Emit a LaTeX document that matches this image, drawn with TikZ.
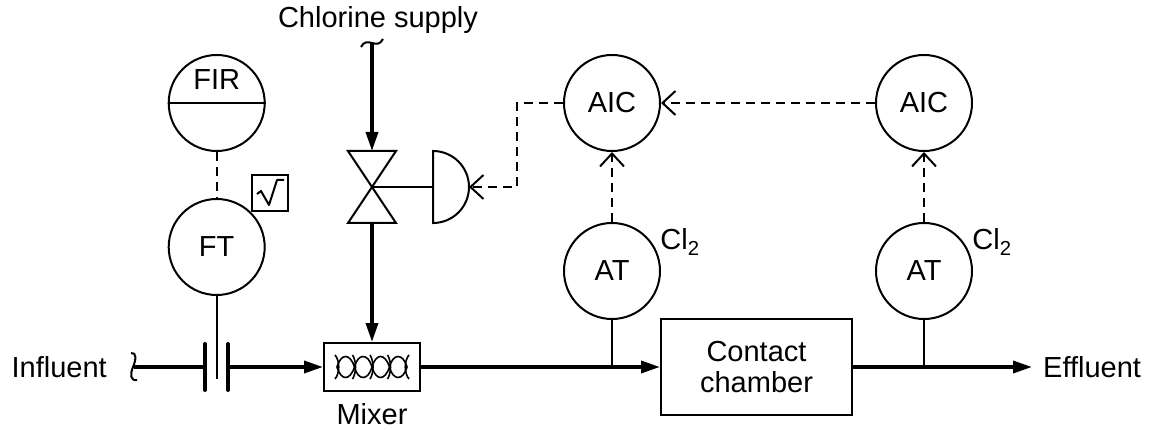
\documentclass[tikz,border=0pt]{standalone}
\usepackage{fontspec}
\setmainfont{Liberation Sans}
\usetikzlibrary{arrows.meta}
\begin{document}
\begin{tikzpicture}[x=1pt,y=-1pt,
  txt/.style={font=\fontsize{29}{31}\selectfont, inner sep=0pt},
  inst/.style={circle, draw, line width=2pt, minimum size=96pt, inner sep=0pt, font=\fontsize{29}{31}\selectfont},
  pipe/.style={line width=3.5pt},
  thinline/.style={line width=2pt},
  sig/.style={line width=2pt, dash pattern=on 9pt off 6pt},
  parr/.style={-{Triangle[length=19pt,width=12pt]}},
  barb/.style={-{Straight Barb[length=13pt,width=24pt,line width=2pt]}}
]
\useasboundingbox (0,0) rectangle (1150,430);

% instruments
\node[inst] (fir) at (216.7,103) {};
\node[txt] (firtxt) at (216.7,80) {FIR};
\draw[thinline] (fir.west) -- (fir.east);
\node[inst] (ft) at (216.7,247) {FT};
\draw[sig] (fir.south) -- (ft.north);
\node[draw, thinline, minimum size=36pt, inner sep=0pt] (sqrt) at (270,193) {};
\draw[thinline, line join=round, shift={(sqrt.center)}] (-13,1) -- (-9,-2) -- (-1,12) -- (7,-13) -- (14,-13);

% orifice plates
\coordinate (pl1) at (205,367);
\coordinate (pl2) at (228,367);
\draw[line width=4pt, line cap=round] (205,344) -- (205,390);
\draw[line width=4pt, line cap=round] (228,344) -- (228,390);
\draw[thinline] (ft.south) -- (216.7,379);

% influent
\node[txt, anchor=east] (inf) at (107,367.5) {Influent};
\coordinate (inbrk) at (134,367);
\draw[thinline] (131,353) .. controls (137,352) and (136,360) .. (133,367) .. controls (130,374) and (130,381) .. (137,380);
\draw[pipe] (inbrk) -- (pl1);

% mixer
\node[draw, thinline, minimum width=96pt, minimum height=48pt, inner sep=0pt] (mixer) at (372,367) {};
\node[txt, anchor=base] (mixtxt) at (372,424) {Mixer};
\draw[line width=1.6pt] (337,367)
  .. controls (341,353) and (350,353) .. (354.5,367)
  .. controls (358,353) and (368,353) .. (372,367)
  .. controls (376,353) and (385,353) .. (389.5,367)
  .. controls (393,353) and (403,353) .. (407,367);
\draw[line width=1.6pt] (337,367)
  .. controls (341,381) and (350,381) .. (354.5,367)
  .. controls (358,381) and (368,381) .. (372,367)
  .. controls (376,381) and (385,381) .. (389.5,367)
  .. controls (393,381) and (403,381) .. (407,367);
\foreach \xx in {354.5,372,389.5}{
  \draw[line width=1.6pt] (\xx-2,355) .. controls (\xx+2,361) and (\xx+2,373) .. (\xx-2,379);
}
\draw[line width=1.6pt] (335,355) .. controls (340,361) and (340,373) .. (335,379);
\draw[line width=1.6pt] (409,355) .. controls (404,361) and (404,373) .. (409,379);
\draw[pipe,parr] (pl2) -- (mixer.west);

% chlorine supply and valve
\node[txt, anchor=base] (cltxt) at (378,28) {Chlorine supply};
\coordinate (clbrk) at (372,43);
\draw[thinline] (361,47) .. controls (364,41) and (368,42) .. (372,43) .. controls (376,44) and (380,45) .. (383,39);
\coordinate (valve) at (372,187);
\coordinate (valvetop) at (372,151);
\coordinate (valvebot) at (372,223);
\draw[thinline, line join=miter] (348,151) -- (396,151) -- (348,223) -- (396,223) -- cycle;
\draw[pipe,parr] (clbrk) -- (valvetop);
\draw[pipe,parr] (valvebot) -- (mixer.north);
% actuator
\coordinate (actC) at (433,187);
\coordinate (actR) at (469,187);
\draw[thinline] (433,151) -- (433,223) arc[start angle=-90, end angle=90, radius=36pt] -- cycle;
\draw[thinline] (valve) -- (actC);

% analyzers and controllers
\node[inst] (aic1) at (612,103) {AIC};
\node[inst] (aic2) at (924,103) {AIC};
\node[inst] (at1) at (612,271) {AT};
\node[inst] (at2) at (924,271) {AT};
\node[txt] (cl2a) at (680,242) {Cl\textsubscript{2}};
\node[txt] (cl2b) at (992,242) {Cl\textsubscript{2}};

% contact chamber
\node[draw, thinline, minimum width=191pt, minimum height=96pt, align=center, font=\fontsize{29}{31}\selectfont, inner sep=0pt] (cc) at (756.5,367) {Contact\\chamber};
\node[txt, anchor=west] (eff) at (1043,367.5) {Effluent};
\coordinate (effend) at (1032,367);

\draw[pipe,parr] (mixer.east) -- (cc.west);
\draw[pipe,parr] (cc.east) -- (effend);
\draw[thinline] (at1.south) -- (at1.south |- cc.west);
\draw[thinline] (at2.south) -- (at2.south |- cc.east);

% signals
\coordinate (sigc) at (517,187);
\draw[sig,barb] (at1.north) -- (aic1.south);
\draw[sig,barb] (at2.north) -- (aic2.south);
\draw[sig,barb] (aic2.west) -- (aic1.east);
\draw[sig,barb] (aic1.west) -| (sigc) -- (actR);
\end{tikzpicture}
\end{document}
